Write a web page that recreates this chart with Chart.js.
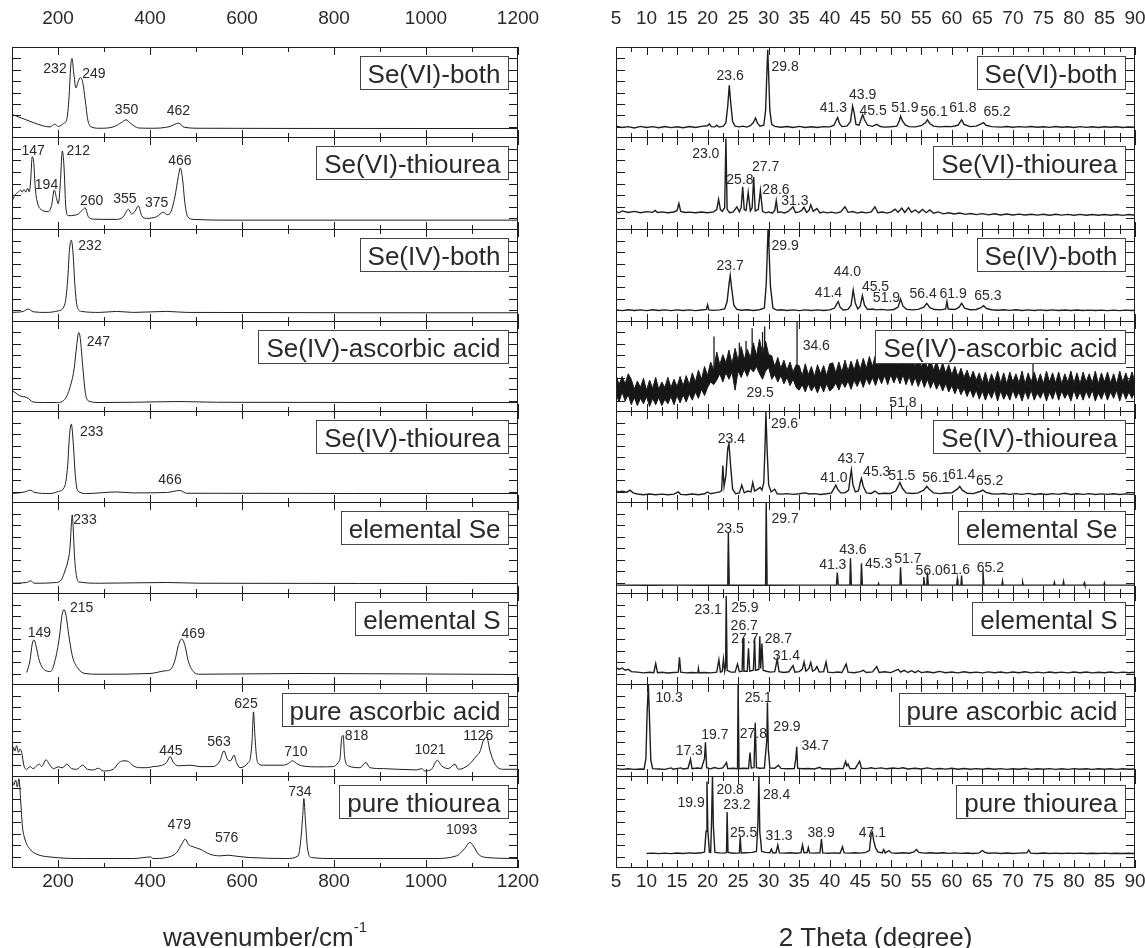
<!DOCTYPE html>
<html>
<head>
<meta charset="utf-8">
<script src="https://cdn.jsdelivr.net/npm/chart.js@4.4.1/dist/chart.umd.min.js"></script>
<style>
  body { margin: 0; background: #fff; }
  #wrap { position: relative; width: 1145px; height: 948px; overflow: hidden; }
  #wrap canvas { position: absolute; }
</style>
</head>
<body>
<div id="wrap"></div>
<script>
// ---- axes ----
const ramanTicks = [200, 400, 600, 800, 1000, 1200];
const ramanMinorTicks = [100, 300, 500, 700, 900, 1100];
const xrdTicks = [5, 10, 15, 20, 25, 30, 35, 40, 45, 50, 55, 60, 65, 70, 75, 80, 85, 90];
const xrdMinorTicks = [7.5, 12.5, 17.5, 22.5, 27.5, 32.5, 37.5, 42.5, 47.5, 52.5, 57.5, 62.5, 67.5, 72.5, 77.5, 82.5, 87.5];
const yTicks = [12.5, 25, 37.5, 50, 62.5, 75, 87.5];

const sampleNames = ['Se(VI)-both', 'Se(VI)-thiourea', 'Se(IV)-both', 'Se(IV)-ascorbic acid', 'Se(IV)-thiourea',
  'elemental Se', 'elemental S', 'pure ascorbic acid', 'pure thiourea'];

// ---- Raman spectra [wavenumber, intensity] ----
const ramanSeVIBoth = [[100,26],[117,22.6],[146,17],[168,13.3],[183,12.2],[193,15.2],[201,12.6],[212,16],[219,20.4],[224,44.8],[227.5,78],[230.4,87.4],[234,72.6],[239,55],[243.5,61.5],[248.5,66.3],[253.6,61.5],[259.4,41],[264.5,20.7],[271,12.6],[291,10.7],[320,12.2],[338,17],[348,20],[358,16],[375,11],[407,10.7],[443,12.6],[462,16.3],[474,11.9],[509,10.7],[700,10.5],[1199,10.4]];
const ramanSeVIThiourea = [[100,30.8],[106.5,37.4],[114,41],[119,42.9],[122,40.7],[126,43.6],[130,40.7],[134,44.7],[137.7,41],[140.6,53.8],[144,78.8],[147,74],[150.7,44.7],[155,30],[164.5,21.6],[179,19.8],[186,26.4],[192,42.9],[197,33.7],[200.7,28.2],[205,50],[209.4,85],[213,68.5],[217,24.5],[222.5,15.4],[237,16],[244,17.2],[253.6,21.6],[259,23.8],[266,14.3],[277,11.7],[327.5,11.4],[342,14.3],[353,22.3],[360,17.2],[367,19.8],[374.6,26],[382,15.4],[392.7,12.5],[414.5,14.3],[429,19],[437.7,16.5],[445,19],[454,35.5],[461.6,57.5],[466,66.7],[471,53.8],[476,28.2],[482,14.3],[494,11.4],[581,10.6],[1199,10.6]];
const ramanSeIVBoth = [[100,10.3],[124.6,11.4],[135.5,13.9],[146,11],[175,10.3],[200.7,12],[215,19.4],[221,45],[225,78],[229,88],[232.6,74.4],[237,37.7],[242,15.8],[251.4,11.4],[291,10.3],[327.5,11.4],[363.7,10.3],[436,11.4],[479.7,10.3],[1199,9.9]];
const ramanSeIVAscorbic = [[100,23.3],[106.5,21.5],[117,17.8],[132,16],[146,11],[168,10.4],[197,10.4],[215,14],[226,27],[235,47.4],[240.6,73],[245,87.4],[248.5,80.7],[253.6,51],[259.4,21.5],[266,12.2],[291,10.4],[363.7,10.7],[465,11.5],[545,10.7],[1199,10.4]];
const ramanSeIVThiourea = [[100,10.3],[128,12],[139,13.9],[150,11.4],[182.6,10.3],[200.7,12.5],[215,18.7],[221,40.7],[225,73.6],[229,85.7],[233,66.3],[237.7,29.7],[242.7,13.2],[262,10.3],[327.5,12],[363.7,11],[436,11.4],[465,13.6],[479.7,10.6],[1199,10.3]];
const ramanElemSe = [[100,11.7],[132,12.5],[141,14.3],[148,11.7],[197,12.5],[208,16],[215,25],[222.5,38],[226,50],[229,75],[231,86],[233,72],[236,40],[240,20],[245,13.2],[291,11.7],[436,12.5],[508.7,11.7],[1199,11.4]];
const ramanElemS = [[132,13.6],[139,26.4],[144,44.7],[148,49],[152,42.9],[159.4,26.4],[171.7,16],[184,14.7],[193.5,26.4],[203,52],[208.7,75.8],[213,82],[217.4,75.8],[224,52],[232,30],[242,19],[258.7,12.5],[291,11.7],[400,12.5],[432.6,15.4],[443.5,16.5],[454,26.4],[461.6,42.9],[468.8,50],[476,42.9],[483,26.4],[494,14.7],[508.7,11.7],[726,12.5],[1199,11.4]];
const ramanAscorbic = [[100,15.6],[103,32],[106.5,28],[110,33.7],[114,26.4],[117,30],[121,26.4],[126,12],[132,8.3],[139,11.2],[146,9],[153.6,12],[159.4,13.8],[164.5,11.2],[174,18.5],[181,13.8],[190,9],[200.7,10.9],[210,10],[219,13.8],[229.7,9],[240.6,8.3],[253.6,12.7],[263.8,8.3],[276.8,7.6],[287.7,9.4],[298.5,6.5],[320,8.3],[333,15.6],[343.5,17.4],[353,16.7],[363.7,12],[378,10],[392.7,10],[407,11.2],[421.7,12],[436,15.6],[444,22],[450.7,15.6],[461.6,12],[487,12.7],[508.7,11.2],[537.6,11.2],[552,17.4],[560.8,28.3],[568,19.2],[575,17.4],[582.6,23.5],[588,15.6],[595.6,10],[613.7,15.6],[618,20],[622,40],[625,70],[628,45],[632,20],[637,14],[646,12.7],[690,12.7],[700.6,14.5],[710,17.4],[719,14.5],[729.7,12],[769.5,10.9],[798.5,11.2],[809,15.6],[813,20],[817,42.8],[820,44.6],[823,22],[831,12],[856.5,10],[869.5,15.6],[878,10],[907,9],[979.7,7.6],[990.5,9],[997.8,6.5],[1012,8.3],[1024.6,18],[1034,12],[1048.5,9],[1063,13.8],[1070,8.3],[1092,12.7],[1110,22.8],[1117,27],[1124.6,39],[1132,42.8],[1139,28.3],[1150,13.8],[1168,8.3],[1199,8.3]];
const ramanThiourea = [[100,97],[104,90],[108,95.6],[111.6,88],[115,97],[119,71.8],[122.5,46],[128,31.5],[139,20.5],[153.6,15],[182.6,12],[255,10.3],[363.7,10.3],[402,12],[406,10.3],[436,11.4],[458,16.8],[469,26],[476.8,31.5],[483,26],[494,23],[508.7,20.5],[530,15],[552,13.2],[570,13.9],[588,12.8],[617,11.4],[697,10.3],[722,13.2],[728,31.5],[732,57],[734.5,75.5],[738,49.8],[742.7,20.5],[751,11.4],[798.5,10.3],[1016,10.3],[1066.6,13.2],[1083,20.5],[1095.6,27.8],[1103,24],[1114,15],[1132,11.4],[1199,10.3]];

// peak labels [text, wavenumber, intensity]
const ramanSeVIBothPeaks = [['232',193.5,76],['249',278,70],['350',349,30.7],['462',461.6,30]];
const ramanSeVIThioureaPeaks = [['147',146,85],['212',244,85],['194',175,48],['260',273,30.8],['355',345.6,33],['375',414.5,29],['466',465,74]];
const ramanSeIVBothPeaks = [['232',269.6,81.7]];
const ramanSeIVAscorbicPeaks = [['247',287.7,77]];
const ramanSeIVThioureaPeaks = [['233',273,77.3],['466',443.5,25.3]];
const ramanElemSePeaks = [['233',258.7,80]];
const ramanElemSPeaks = [['215',251.4,83],['149',159.4,56.4],['469',494,55.7]];
const ramanAscorbicPeaks = [['625',608.7,78],['445',445.6,28.3],['563',550,38],['710',717,26.4],['818',849,43.8],['1021',1008.6,29.3],['1126',1113.7,43.8]];
const ramanThioureaPeaks = [['734',726,82.8],['479',463.7,46.9],['576',566.6,32.2],['1093',1077.5,40.7]];

// ---- XRD patterns [2 theta, intensity] ----
const xrdSeVIBoth = [[5,13],[6,11.5],[7,12.5],[8,11],[9,12.8],[10,11.5],[11,12.5],[12,11.2],[13,12.6],[14,11.4],[15,12.4],[16,11.3],[17,12.6],[18,11.5],[19,12.8],[20,13.5],[20.3,15.5],[20.6,12.5],[21.2,12.2],[21.5,14],[21.9,12],[22.6,13],[23,17],[23.3,35],[23.55,58],[23.8,38],[24.1,18],[24.5,13],[25.2,12.2],[25.8,13],[26.4,12],[27,13.5],[27.5,17],[27.85,22],[28.2,16],[28.6,13],[29.2,14],[29.5,30],[29.7,70],[29.85,97],[30,70],[30.2,30],[30.5,15],[31,12.8],[32,11.8],[33,12.6],[34,11.6],[35,12.8],[36,11.5],[37,12.4],[38,11.6],[39,12.5],[40,12.2],[40.7,14],[41.1,20],[41.3,22.5],[41.6,16],[42,12.5],[42.8,13],[43.4,18],[43.75,35],[44,28],[44.3,15],[44.8,14],[45.2,22],[45.4,25.5],[45.7,20],[46.2,14],[47,12.8],[47.7,15],[48.3,12.6],[49,12],[50,12.4],[51,13],[51.4,19],[51.6,24],[51.9,19],[52.4,14],[53,12.5],[54,12.2],[55,13.5],[55.7,17],[56,20],[56.4,16],[57,13],[58,12.2],[59,12.8],[60,12.5],[61,14],[61.4,18],[61.6,20],[62,15],[63,12.5],[64,13],[64.8,15.5],[65.2,17],[65.6,14],[66.5,12.5],[68,12],[69,12.6],[70,11.8],[71,12.5],[72,11.9],[73,12.7],[74,11.8],[75,12.4],[76,11.7],[77,12.6],[78,11.8],[79,12.4],[80,11.6],[81,12.5],[82,11.7],[83,12.3],[84,11.6],[85,12.4],[86,11.8],[87,12.3],[88,11.6],[89,12.2],[90,11.8]];
const xrdSeVIThiourea = [[5,20],[5.5,18.5],[6,20.5],[7,18.8],[8,20],[9,18.5],[10,19.8],[11,19],[11.4,21],[11.8,18.8],[12.5,19.5],[13.5,18.6],[14.5,19.4],[15,21],[15.3,28.5],[15.6,20],[16.3,18.8],[17,19.2],[18,18.5],[19,19.3],[20,18.6],[21,19.5],[21.5,22],[21.8,33],[22.1,22],[22.4,20],[22.8,24],[23,98.5],[23.2,22],[23.6,18.5],[24.2,19.5],[24.8,25],[25.2,19.5],[25.5,24],[25.75,46.5],[26,22],[26.3,21],[26.65,40.5],[27,20.5],[27.3,24],[27.55,57],[27.8,20.5],[28.3,22],[28.65,42.4],[29,20],[29.5,18.5],[30,19.5],[30.6,18.2],[31,21],[31.25,31.5],[31.5,19],[32,19.5],[32.6,18.4],[33.2,20],[34,25],[34.4,18.6],[35,19.5],[35.4,21],[35.8,24.5],[36.2,19],[36.6,21],[36.9,27],[37.3,20],[37.9,23],[38.4,18.4],[39,19.5],[39.6,18.4],[40.3,19.2],[41,18.2],[41.8,19.5],[42.5,25],[43,19],[43.8,19.8],[44.5,18.2],[45.2,19.3],[46,18.4],[46.8,19.5],[47.4,25],[47.9,18.6],[48.6,19.3],[49.4,18.2],[50.1,19.5],[50.7,22.5],[51.2,19],[51.8,23.5],[52.3,18.8],[52.9,24],[53.4,19],[54,21.5],[54.6,18.4],[55.2,22],[55.8,18.6],[56.4,21.5],[57,18],[57.8,19.5],[58.6,17.4],[59.5,18.6],[60.4,17.2],[61.3,18.2],[62.2,16.8],[63.1,17.8],[64,16.5],[65,17.6],[66,16.3],[67,17.4],[68,16.2],[69,17.2],[70,16.1],[71,17.1],[72,16.2],[73,17],[74,16],[75,16.9],[76,15.9],[77,16.9],[78,16],[79,16.8],[80,15.8],[81,16.8],[82,15.9],[83,16.7],[84,15.8],[85,16.7],[86,15.8],[87,16.6],[88,15.7],[89,16.6],[90,15.8]];
const xrdSeIVBoth = [[5,13],[6,12.2],[7,13.2],[8,12.3],[9,13],[10,12.2],[11,13.1],[12,12.3],[13,13],[14,12.2],[15,13],[16,12.4],[17,13],[18,12.2],[19,12.9],[19.8,13.5],[20,18.5],[20.2,13],[21,12.5],[22,13],[22.8,14],[23.2,22],[23.5,40],[23.7,50],[23.95,36],[24.3,18],[24.8,13.5],[25.5,12.6],[26.5,13.2],[27.5,12.4],[28.5,13.2],[29.3,15],[29.6,40],[29.8,80],[29.9,99],[30.05,80],[30.3,38],[30.7,15],[31.3,12.8],[32,13.2],[33,12.3],[34,13],[35,12.2],[36,13],[37,12.3],[38,13],[39,12.4],[40,13],[40.8,15],[41.2,20],[41.4,22],[41.7,16],[42.2,13],[43,13.5],[43.5,18],[43.85,34.4],[44.2,20],[44.6,14],[45,17],[45.35,28.3],[45.7,18],[46.2,13.5],[47,14],[47.6,13],[48.5,13.6],[49.5,12.8],[50.5,13.5],[51.2,16],[51.6,24.6],[52,17],[52.6,13.6],[53.5,13],[54.5,13.6],[55.4,16],[55.9,20],[56.4,15.5],[57.2,13.4],[58.2,13],[59,14],[59.2,22],[59.4,14],[60.5,13.4],[61.2,16],[61.6,20],[62.1,15],[63,13.2],[64,13.5],[64.8,15.5],[65.2,17.5],[65.7,14.5],[66.5,13.2],[67.5,12.6],[68.5,13.2],[69.5,12.5],[70.5,13.1],[71.5,12.4],[72.5,13],[73.5,12.4],[74.5,13],[75.5,12.3],[76.5,13],[77.5,12.4],[78.5,12.9],[79.5,12.3],[80.5,12.9],[81.5,12.3],[82.5,12.8],[83.5,12.3],[84.5,12.8],[85.5,12.2],[86.5,12.8],[87.5,12.2],[88.5,12.8],[89.5,12.3],[90,12.7]];
// Se(IV)-ascorbic acid: amorphous noisy band, upper and lower edge read every 0.5 degree from 5 to 90
const xrdSeIVAscorbicStart = 5;
const xrdSeIVAscorbicStep = 0.5;
const xrdSeIVAscorbicUpper = [41,30,39,31,42,36,25,34,27,37,24,35,26,38,25,33,27,38,27,36,28,39,29,40,30,43,33,46,36,50,40,55,46,66,52,63,54,68,53,70,57,72,58,69,60,76,62,80,64,78,63,62,50,60,48,57,46,55,44,52,51,40,53,41,50,39,52,42,51,40,53,54,43,55,44,57,45,56,46,58,47,59,48,61,50,63,51,64,52,65,53,66,52,65,53,63,51,62,50,61,49,60,48,58,46,56,44,54,43,52,41,50,39,48,38,46,36,45,35,43,32,44,31,42,33,45,32,43,31,44,33,42,32,45,31,43,33,44,32,42,31,45,33,43,32,44,31,42,33,45,32,43,31,44,33,42,32,45,31,43,33,44,32,42,31,45,33,43,32,44,33];
const xrdSeIVAscorbicLower = [20,11,22,12,19,8,16,7,15,9,17,6,15,8,16,7,14,9,17,8,18,10,19,11,20,13,22,15,25,18,27,33,30,35,42,33,43,36,44,24,45,38,47,39,48,44,50,42,36,45,49,36,41,33,40,31,38,29,36,27,24,30,22,31,23,29,21,30,22,31,23,26,32,24,33,27,34,25,35,28,36,27,37,30,38,29,39,31,40,30,41,32,40,31,41,30,39,29,38,28,37,27,36,26,34,25,32,23,31,22,29,20,28,19,26,17,25,16,24,14,23,13,22,15,24,12,23,14,21,13,24,15,22,12,23,14,24,13,21,15,23,12,22,14,24,13,23,15,21,12,24,14,22,13,23,15,24,12,21,14,23,13,22,15,24,12,23,14,22,15,23];
// sharp hair-like spikes rising out of the band [2 theta, base, top]
const xrdSeIVAscorbicSpikes = [[21.05,45,83],[25.2,60,76],[26.3,62,78],[27.3,66,92],[29,64,88],[29.35,60,94],[34.65,26,100],[73.3,32,55]];
const xrdSeIVThiourea = [[5,13],[5.5,12],[6,12.8],[6.8,11.8],[7.3,14],[7.8,11],[8.5,9.8],[9.5,9],[10.5,9.8],[11.5,9],[12.5,9.6],[13.5,9],[14.5,9.6],[15.2,12],[15.6,9.4],[16.5,9],[17.5,9.8],[18.5,9],[19.5,10],[20,12],[20.5,10],[21.2,11],[22,12],[22.3,13.5],[22.5,40.7],[22.7,18],[23,30],[23.3,59],[23.5,64.5],[23.8,38],[24.1,15],[24.6,10],[25.2,11],[25.6,19.4],[26,11],[26.6,13],[27.1,12],[27.4,22.3],[27.7,13],[28.2,15],[28.6,17],[28.9,14],[29.2,22],[29.4,60],[29.55,99],[29.75,58],[30,20],[30.4,12],[31,15],[31.4,10],[32.2,9.6],[33,10.2],[34,9.4],[35,10],[36,11],[36.6,9.8],[37.5,10.2],[38.5,9.3],[39.5,10],[40.3,11],[40.8,17],[41,19.4],[41.3,15],[41.8,11],[42.5,11],[43.1,14],[43.4,30],[43.55,36],[43.8,20],[44.2,12],[44.7,13],[45,22],[45.2,26.7],[45.5,18],[46,11],[46.8,10.4],[47.4,13],[48,10],[49,10.6],[50,10.4],[50.8,13],[51.2,18],[51.5,22.3],[51.9,16],[52.5,11],[53.5,10.4],[54.5,11],[55.4,14],[55.9,18],[56.3,15],[57,11],[58,10.2],[59,10.8],[60,11],[60.9,15],[61.3,18],[61.7,14],[62.5,10.6],[63.5,10.2],[64.6,12.5],[65.1,14],[65.6,11.5],[66.5,10],[67.5,9.6],[68.5,10.3],[69.5,9.4],[70.5,10.2],[71.5,9.4],[72.5,10.5],[73.5,9.3],[74.5,10],[75.5,9.3],[76.5,10.2],[77.5,9.4],[78.5,10.6],[79.5,9.3],[80.5,10],[81.5,9.4],[82.5,10.2],[83.5,9.3],[84.5,9.9],[85.5,9.4],[86.5,10.1],[87.5,9.3],[88.5,9.9],[89.5,9.4],[90,9.8]];
const xrdElemSe = [[5,9.6],[10,9.5],[15,9.6],[20,9.5],[23.3,9.5],[23.4,67.4],[23.55,9.5],[29.5,9.5],[29.6,99.6],[29.75,9.5],[35,9.6],[41.1,9.6],[41.25,23.4],[41.4,9.6],[43.3,9.6],[43.4,38.8],[43.55,9.6],[45.1,9.6],[45.2,33.3],[45.35,9.6],[47.9,9.6],[48,11.5],[48.1,9.6],[51.5,9.6],[51.6,29],[51.75,9.6],[55.3,9.6],[55.4,18.5],[55.55,9.6],[55.9,9.6],[56,23.5],[56.15,9.6],[58,9.6],[60.8,9.6],[60.9,16],[61,9.6],[61.5,9.6],[61.6,20],[61.7,9.6],[65,9.6],[65.1,25],[65.25,9.6],[68.2,9.6],[68.3,14],[68.4,9.6],[71.5,9.6],[71.6,12.5],[71.7,9.6],[76.7,9.6],[76.8,12.5],[76.9,9.6],[78.2,9.6],[78.3,13.5],[78.4,9.6],[81.6,9.6],[81.7,12],[81.8,9.6],[84.9,9.6],[85,12],[85.1,9.6],[90,9.6]];
const xrdElemS = [[5,19],[5.5,17],[6,18.5],[6.5,16],[7,17],[7.5,14.5],[8.5,14],[9.5,13.2],[10.5,13.8],[11.2,13.4],[11.5,23.4],[11.8,13.4],[12.5,13.8],[13.5,13],[14.5,13.6],[15.2,14],[15.4,30],[15.6,14],[16.5,13.2],[17.5,13.6],[18.4,13.2],[18.5,18],[18.6,13.4],[19.5,13.6],[20.5,13.2],[21.5,14],[21.85,27.5],[22.1,14],[22.4,15],[22.6,28],[22.8,15],[22.95,20],[23.05,97],[23.2,16],[23.8,14],[24.5,14],[24.9,22.7],[25.2,14.5],[25.65,15],[25.8,51],[25.95,15],[26.5,15],[26.7,40],[26.9,15],[27.5,16],[27.7,51],[27.85,16],[28.4,17],[28.55,53],[28.7,18],[28.9,45],[29.1,16],[29.6,15],[30.3,14],[31,14.5],[31.4,28],[31.7,14.5],[32.5,13.6],[33.3,14.4],[34,21],[34.3,14],[35,14.5],[35.5,17],[35.8,25],[36.1,15],[36.6,18],[36.9,24.5],[37.2,15],[37.6,16.5],[37.9,20],[38.3,14],[39,14.5],[39.4,25],[39.7,14],[40.5,13.5],[41.3,14.2],[42,13.6],[42.7,22.7],[43,14],[44,13.4],[45,14.6],[45.5,16],[46,13.6],[47,14.2],[47.7,20],[48.1,13.6],[49,14.4],[50,13.5],[51.2,17],[51.6,14],[52.2,16],[52.8,13.6],[53.4,15.5],[54,13.4],[54.5,15.5],[55,13.5],[56,14.4],[57,13.4],[58,14.8],[59,13.4],[60,14.2],[61,13.2],[62,14.4],[63,13.4],[64,14],[65,13.2],[66,14.3],[67,13.3],[68,14.2],[69,13.2],[70,14.1],[71,13.3],[72,14.4],[73,13.2],[74,14],[75,13.2],[76,14.2],[77,13.3],[78,14],[79,13.2],[80,14.1],[81,13.3],[82,14.2],[83,13.2],[84,13.9],[85,13.3],[86,14.1],[87,13.2],[88,14],[89,13.3],[90,13.8]];
const xrdAscorbic = [[5,9],[6,8.2],[7,8.8],[8,8.2],[9,8.6],[9.6,8.4],[9.9,20],[10.1,70],[10.3,99],[10.5,60],[10.7,18],[11,9],[12,8.6],[13,8.2],[14,9.8],[14.4,8.4],[15.6,9.8],[16,8.6],[16.8,9.4],[17.2,19.2],[17.45,9],[18.3,9.6],[19,9.2],[19.5,20],[19.65,37.3],[19.85,10],[20.5,8.8],[21.1,10.2],[21.8,9],[22.5,9.8],[23.1,15.6],[23.3,9],[24.2,9.4],[24.9,9],[25,99],[25.15,9],[25.8,9.4],[26.7,9.2],[26.95,26.4],[27.15,9.6],[27.6,10],[27.8,58.3],[28,10],[28.5,9.4],[29.3,9.6],[29.7,40],[29.8,80],[29.95,30],[30.2,9.6],[31,9.4],[31.6,12.7],[32,9.2],[33,8.8],[34.2,9],[34.45,20],[34.6,32.6],[34.75,9.5],[35.5,8.8],[36.5,9.2],[37.5,8.6],[38.4,10.5],[38.7,8.8],[39.5,9],[40.4,8.6],[41.4,9.2],[42.2,9],[42.6,16.7],[42.8,12],[43,14],[43.3,9],[44.2,9.2],[44.9,17],[45.2,9.4],[46,9],[46.8,10],[47.4,9],[48.4,9.8],[49.3,8.8],[50.4,9.6],[51.2,9],[52,10],[52.8,8.6],[54,9.4],[55,8.6],[56,9.8],[57,8.5],[58,9.2],[59,8.5],[60,9.4],[61,8.4],[62,9.1],[63,8.3],[64,9],[65,8.4],[66,9.2],[67,8.3],[68,9],[69,8.2],[70,8.9],[71,8.3],[72,9.1],[73,8.2],[74,8.8],[75,8.3],[76,9],[77,8.2],[78,8.8],[79,8.2],[80,9],[81,8.3],[82,8.8],[83,8.2],[84,8.9],[85,8.3],[86,8.8],[87,8.2],[88,8.9],[89,8.3],[90,8.6]];
const xrdThiourea = [[10,15.8],[11,16.2],[12,15.6],[13,16.2],[14,15.6],[15,16.3],[16,15.7],[17,16.4],[18,16],[19,16.5],[19.5,17.5],[19.75,40],[19.9,94],[20.05,40],[20.3,17],[20.5,16.8],[20.65,50],[20.8,99.7],[20.95,45],[21.2,17],[22,16.4],[22.8,16.2],[23.1,17],[23.2,60.8],[23.35,17],[24.2,16],[25.2,16.4],[25.35,34],[25.5,16.4],[26.2,16.6],[27.3,17],[28,18],[28.25,50],[28.4,100],[28.55,38.8],[28.7,30],[28.85,18],[29.5,17],[30.2,16.5],[30.45,20.5],[30.7,16.4],[31.2,16.6],[31.5,25],[31.75,16.4],[32.5,16.2],[33.5,16.6],[34.5,16],[35.3,16.6],[35.55,25],[35.8,16.5],[36.3,16.8],[36.5,22.3],[36.7,16.4],[37.5,16.2],[38.4,16.6],[38.65,31.5],[38.85,16.4],[39.8,16],[40.8,16.4],[41.7,16],[42.1,23],[42.35,16.4],[43.2,16.2],[44.2,16.6],[45,16.2],[45.9,17],[46.5,19],[46.8,37],[47,38.8],[47.2,30],[47.5,22],[47.9,17.5],[48.6,16.4],[48.85,20],[49.1,16.4],[49.7,19],[50.1,16.4],[51,16],[52,16.5],[53,16],[53.8,17.5],[54.2,20],[54.6,17],[55.5,16.2],[56.5,16.6],[57.5,16],[58.5,16.5],[59.5,15.9],[60.5,16.4],[61.5,15.9],[62.5,16.3],[63.5,15.8],[64.5,16.4],[65,19],[65.4,17],[66,16],[67,16.4],[68,15.8],[69,16.3],[70,15.8],[71,16.2],[72.3,16.5],[72.6,19.5],[72.9,16.2],[74,15.8],[75,16.3],[76,15.7],[77,16.2],[78,15.8],[79,16.2],[80,15.7],[81,16.2],[82,15.8],[83,16.1],[84,15.7],[85,16.2],[86,15.8],[87,16],[88,15.7],[89,16.1],[90,15.8]];

// peak labels [text, 2 theta, intensity]
const xrdSeVIBothPeaks = [['23.6',23.7,67.8],['29.8',32.7,78],['41.3',40.6,32.6],['43.9',45.4,46.7],['45.5',47.1,29],['51.9',52.3,32.6],['56.1',57.1,28],['61.8',61.8,33],['65.2',67.4,28]];
const xrdSeVIThioureaPeaks = [['23.0',19.7,82],['25.8',25.3,54],['27.7',29.5,67.8],['28.6',31.2,43],['31.3',34.3,30.8]];
const xrdSeIVBothPeaks = [['29.9',32.7,81.5],['23.7',23.7,59.8],['44.0',42.9,53.6],['41.4',39.8,31],['45.5',47.5,38],['51.9',49.3,25.4],['56.4',55.3,30],['61.9',60.2,30],['65.3',65.9,28]];
const xrdSeIVAscorbicPeaks = [['34.6',37.8,72.5],['29.5',28.6,21],['51.8',52,10]];
const xrdSeIVThioureaPeaks = [['23.4',23.9,68.9],['29.6',32.6,85.7],['43.7',43.5,47.3],['41.0',40.7,27],['45.3',47.7,33.3],['51.5',51.8,29.7],['56.1',57.4,27],['61.4',61.6,30],['65.2',66.2,24]];
const xrdElemSePeaks = [['23.5',23.7,71],['29.7',32.7,81],['41.3',40.5,31.5],['43.6',43.8,48],['45.3',48,32.6],['51.7',52.8,38],['56.0',56.3,25],['61.6',60.75,26],['65.2',66.3,28]];
const xrdElemSPeaks = [['23.1',20.1,81],['25.9',26.1,83.5],['26.7',26,64],['27.7',26.1,49.5],['28.7',31.6,49.5],['31.4',32.9,31]];
const xrdAscorbicPeaks = [['10.3',13.7,85],['17.3',17,28.3],['19.7',21.2,44.6],['25.1',28.3,85],['27.8',27.5,45.6],['29.9',33,54],['34.7',37.6,33.7]];
const xrdThioureaPeaks = [['19.9',17.3,70],['20.8',23.7,84.6],['23.2',24.8,68],['28.4',31.3,79],['25.5',25.9,38],['31.3',31.7,35],['38.9',38.6,38],['47.1',47,38]];

// ---- layout ----
const panelEdges = [47, 137, 229, 321, 411, 502, 593, 684, 776, 867];
const fontFamily = '"Liberation Sans", Arial, Helvetica, sans-serif';
const inkColor = '#1e1e1e';
const textColor = '#2a2a2a';

const toPoints = pts => pts.map(p => ({ x: p[0], y: p[1] }));
const bandPoints = vals => vals.map((v, i) => ({ x: xrdSeIVAscorbicStart + i * xrdSeIVAscorbicStep, y: v }));
const spikePoints = spikes => spikes.flatMap(s => [{ x: s[0], y: s[1] }, { x: s[0], y: s[2] }, { x: s[0], y: null }]);

const columns = [
  {
    left: 0, width: 560, plotL: 12, plotR: 518, min: 100, max: 1200,
    major: ramanTicks, minor: ramanMinorTicks, lineWidth: 1, smooth: true,
    title: 'wavenumber/cm', titleSup: '-1',
    series: [ramanSeVIBoth, ramanSeVIThiourea, ramanSeIVBoth, ramanSeIVAscorbic, ramanSeIVThiourea, ramanElemSe, ramanElemS, ramanAscorbic, ramanThiourea],
    peaks: [ramanSeVIBothPeaks, ramanSeVIThioureaPeaks, ramanSeIVBothPeaks, ramanSeIVAscorbicPeaks, ramanSeIVThioureaPeaks, ramanElemSePeaks, ramanElemSPeaks, ramanAscorbicPeaks, ramanThioureaPeaks]
  },
  {
    left: 560, width: 585, plotL: 616, plotR: 1135, min: 5, max: 90,
    major: xrdTicks, minor: xrdMinorTicks, lineWidth: 1.4, smooth: false,
    title: '2 Theta (degree)', titleSup: '',
    series: [xrdSeVIBoth, xrdSeVIThiourea, xrdSeIVBoth, null, xrdSeIVThiourea, xrdElemSe, xrdElemS, xrdAscorbic, xrdThiourea],
    peaks: [xrdSeVIBothPeaks, xrdSeVIThioureaPeaks, xrdSeIVBothPeaks, xrdSeIVAscorbicPeaks, xrdSeIVThioureaPeaks, xrdElemSePeaks, xrdElemSPeaks, xrdAscorbicPeaks, xrdThioureaPeaks]
  }
];

// frame, inward ticks, legend box, peak labels and axis labels
const framePlugin = (col, idx) => ({
  id: 'panelFrame',
  afterDatasetsDraw(chart) {
    const { ctx, chartArea: a } = chart;
    const xs = chart.scales.x, ys = chart.scales.y;
    ctx.save();
    ctx.strokeStyle = inkColor;
    ctx.lineWidth = 1;

    const xTick = (v, len) => {
      const px = Math.round(xs.getPixelForValue(v)) + 0.5;
      ctx.beginPath();
      ctx.moveTo(px, a.top); ctx.lineTo(px, a.top + len);
      ctx.moveTo(px, a.bottom); ctx.lineTo(px, a.bottom - len);
      ctx.stroke();
    };
    col.major.forEach(v => xTick(v, 8));
    col.minor.forEach(v => xTick(v, 5));
    yTicks.forEach(v => {
      const py = Math.round(ys.getPixelForValue(v)) + 0.5;
      ctx.beginPath();
      ctx.moveTo(a.left, py); ctx.lineTo(a.left + 9, py);
      ctx.moveTo(a.right, py); ctx.lineTo(a.right - 9, py);
      ctx.stroke();
    });
    ctx.strokeRect(a.left + 0.5, a.top + 0.5, a.width - 1, a.height - 1);

    // peak labels
    ctx.fillStyle = textColor;
    ctx.font = `14px ${fontFamily}`;
    ctx.textAlign = 'center';
    ctx.textBaseline = 'middle';
    col.peaks[idx].forEach(([t, px, py]) => {
      ctx.fillText(t, xs.getPixelForValue(px), ys.getPixelForValue(py));
    });

    // sample name box
    const name = sampleNames[idx];
    ctx.font = `26px ${fontFamily}`;
    const w = ctx.measureText(name).width;
    const boxR = Math.round(a.right - 10) + 0.5;
    const boxL = Math.round(boxR - w - 16) + 0.5;
    const boxT = a.top + 9.5;
    ctx.fillStyle = '#fff';
    ctx.fillRect(boxL, boxT, boxR - boxL, 33);
    ctx.strokeStyle = '#444';
    ctx.strokeRect(boxL, boxT, boxR - boxL, 33);
    ctx.fillStyle = textColor;
    ctx.textAlign = 'right';
    ctx.textBaseline = 'alphabetic';
    ctx.fillText(name, boxR - 8, boxT + 26);

    // axis tick labels
    ctx.font = `19px ${fontFamily}`;
    ctx.textAlign = 'center';
    ctx.textBaseline = 'middle';
    if (idx === 0) {
      col.major.forEach(v => ctx.fillText(String(v), xs.getPixelForValue(v), a.top - 28.5));
    }
    if (idx === 8) {
      col.major.forEach(v => ctx.fillText(String(v), xs.getPixelForValue(v), a.bottom + 14));
      const cx = (a.left + a.right) / 2;
      ctx.font = `26px ${fontFamily}`;
      ctx.textBaseline = 'alphabetic';
      const wMain = ctx.measureText(col.title).width;
      ctx.font = `15px ${fontFamily}`;
      const wSup = col.titleSup ? ctx.measureText(col.titleSup).width : 0;
      const x0 = cx - (wMain + wSup) / 2;
      ctx.textAlign = 'left';
      ctx.font = `26px ${fontFamily}`;
      ctx.fillText(col.title, x0, a.bottom + 78);
      if (col.titleSup) {
        ctx.font = `15px ${fontFamily}`;
        ctx.fillText(col.titleSup, x0 + wMain, a.bottom + 64);
      }
    }
    ctx.restore();
  }
});

const wrap = document.getElementById('wrap');

columns.forEach(col => {
  col.series.forEach((pts, i) => {
    const canvasTop = i === 0 ? 0 : panelEdges[i];
    const areaBottom = panelEdges[i + 1] + 1;
    const canvasBottom = i === 8 ? 948 : areaBottom;
    const canvas = document.createElement('canvas');
    canvas.width = col.width;
    canvas.height = canvasBottom - canvasTop;
    canvas.style.left = col.left + 'px';
    canvas.style.top = canvasTop + 'px';
    wrap.appendChild(canvas);

    const lineStyle = {
      borderColor: inkColor,
      borderWidth: col.lineWidth,
      pointRadius: 0,
      fill: false,
      cubicInterpolationMode: col.smooth ? 'monotone' : 'default',
      tension: 0
    };
    let datasets;
    if (pts) {
      datasets = [{ ...lineStyle, data: toPoints(pts) }];
    } else {
      // noisy amorphous band: filled between its upper and lower edge, plus sharp spikes
      datasets = [
        { ...lineStyle, borderWidth: 1, data: bandPoints(xrdSeIVAscorbicUpper), fill: '+1', backgroundColor: '#161616' },
        { ...lineStyle, borderWidth: 1, data: bandPoints(xrdSeIVAscorbicLower) },
        { ...lineStyle, borderWidth: 1.3, data: spikePoints(xrdSeIVAscorbicSpikes), spanGaps: false }
      ];
    }

    new Chart(canvas, {
      type: 'line',
      data: { datasets },
      options: {
        responsive: false,
        animation: false,
        events: [],
        layout: {
          padding: {
            left: col.plotL - col.left,
            right: col.left + col.width - col.plotR,
            top: panelEdges[i] - canvasTop,
            bottom: canvasBottom - areaBottom
          }
        },
        scales: {
          x: { type: 'linear', min: col.min, max: col.max, display: false },
          y: { type: 'linear', min: 0, max: 100, display: false }
        },
        plugins: { legend: { display: false }, tooltip: { enabled: false } }
      },
      plugins: [framePlugin(col, i)]
    });
  });
});
</script>
</body>
</html>
